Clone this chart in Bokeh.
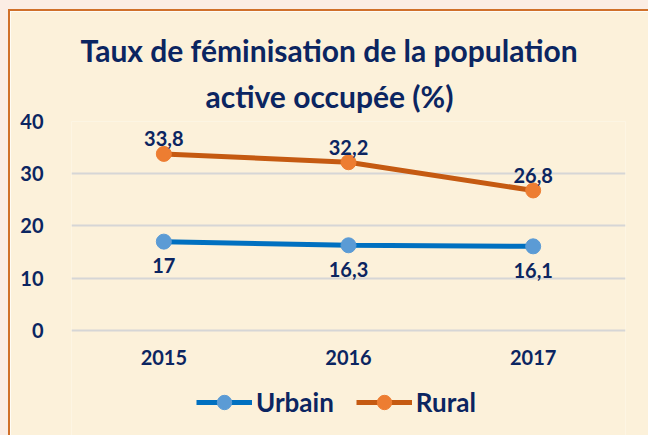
from bokeh.plotting import figure
from bokeh.models import ColumnDataSource, Legend, LegendItem, Title, FactorRange, Range1d
from bokeh.embed import file_html
from bokeh.resources import INLINE
from bokeh.core.properties import value

years = ["2015", "2016", "2017"]
urbain = [17.0, 16.3, 16.1]
rural = [33.8, 32.2, 26.8]
urbain_labels = ["17", "16,3", "16,1"]
rural_labels = ["33,8", "32,2", "26,8"]
y_ticks = [0, 10, 20, 30, 40]

NAVY = "#0B2561"
BG = "#FCF1DA"
PAGE = "#FBEDE4"
EDGE = "#D0702A"
FONT = "Lato"

src_u = ColumnDataSource(dict(x=years, y=urbain, t=urbain_labels))
src_r = ColumnDataSource(dict(x=years, y=rural, t=rural_labels))

p = figure(x_range=FactorRange(*years), y_range=Range1d(-20.5, 40),
           width=640, height=426, output_backend="svg", toolbar_location=None,
           min_border_left=61, min_border_right=25, min_border_top=110, min_border_bottom=0,
           background_fill_color=BG, border_fill_color=BG, outline_line_color=None)

# titles (last added goes on top)
p.add_layout(Title(text="active occupée (%)", align="left", text_font=FONT,
                   text_font_size="30px", text_font_style="bold", text_color=NAVY,
                   standoff=16, offset=134), "above")
p.add_layout(Title(text="Taux de féminisation de la population", align="left", text_font=FONT,
                   text_font_size="30px", text_font_style="bold", text_color=NAVY,
                   standoff=0, offset=9), "above")

# axes
p.yaxis.ticker = y_ticks
p.yaxis.axis_line_color = None
p.yaxis.major_tick_line_color = None
p.yaxis.minor_tick_line_color = None
p.yaxis.major_label_text_font = FONT
p.yaxis.major_label_text_font_size = "20px"
p.yaxis.major_label_text_font_style = "bold"
p.yaxis.major_label_text_color = NAVY
p.yaxis.major_label_standoff = 22

p.xaxis.fixed_location = -3.8
p.xaxis.axis_line_color = None
p.xaxis.major_tick_line_color = None
p.xaxis.major_tick_out = 0
p.xaxis.major_tick_in = 0
p.xaxis.major_label_text_font = FONT
p.xaxis.major_label_text_font_size = "20px"
p.xaxis.major_label_text_font_style = "bold"
p.xaxis.major_label_text_color = NAVY
p.xaxis.major_label_standoff = 0

p.xgrid.grid_line_color = None
p.ygrid.grid_line_color = "#D6D6D6"
p.ygrid.grid_line_width = 2

# series
lu = p.line("x", "y", source=src_u, line_color="#0070C0", line_width=5)
cu = p.scatter("x", "y", source=src_u, size=15, fill_color="#5B9BD5", line_color="#5B9BD5")
lr = p.line("x", "y", source=src_r, line_color="#C55A11", line_width=5)
cr = p.scatter("x", "y", source=src_r, size=15, fill_color="#ED7D31", line_color="#ED7D31")

p.text("x", "y", text="t", source=src_r, y_offset=-15, text_align="center", text_baseline="middle",
       text_font=value(FONT), text_font_size="20px", text_font_style="bold", text_color=NAVY)
p.text("x", "y", text="t", source=src_u, y_offset=24, text_align="center", text_baseline="middle",
       text_font=value(FONT), text_font_size="20px", text_font_style="bold", text_color=NAVY)

legend = Legend(items=[LegendItem(label="Urbain", renderers=[lu, cu]),
                       LegendItem(label="Rural", renderers=[lr, cr])],
                orientation="horizontal", location=(125, 17),
                label_text_font=FONT, label_text_font_size="26px", label_text_font_style="bold",
                label_text_color=NAVY, glyph_width=56, glyph_height=36, label_standoff=4,
                spacing=22, padding=0, margin=0,
                background_fill_alpha=0, border_line_color=None)
p.add_layout(legend)

p.styles = {"margin-left": "8px", "margin-top": "9px",
            "border-top": "2px solid " + EDGE, "border-left": "2px solid " + EDGE,
            "box-shadow": "-10px -10px 0 10px " + PAGE}

open("out.html", "w").write(file_html(p, INLINE))
